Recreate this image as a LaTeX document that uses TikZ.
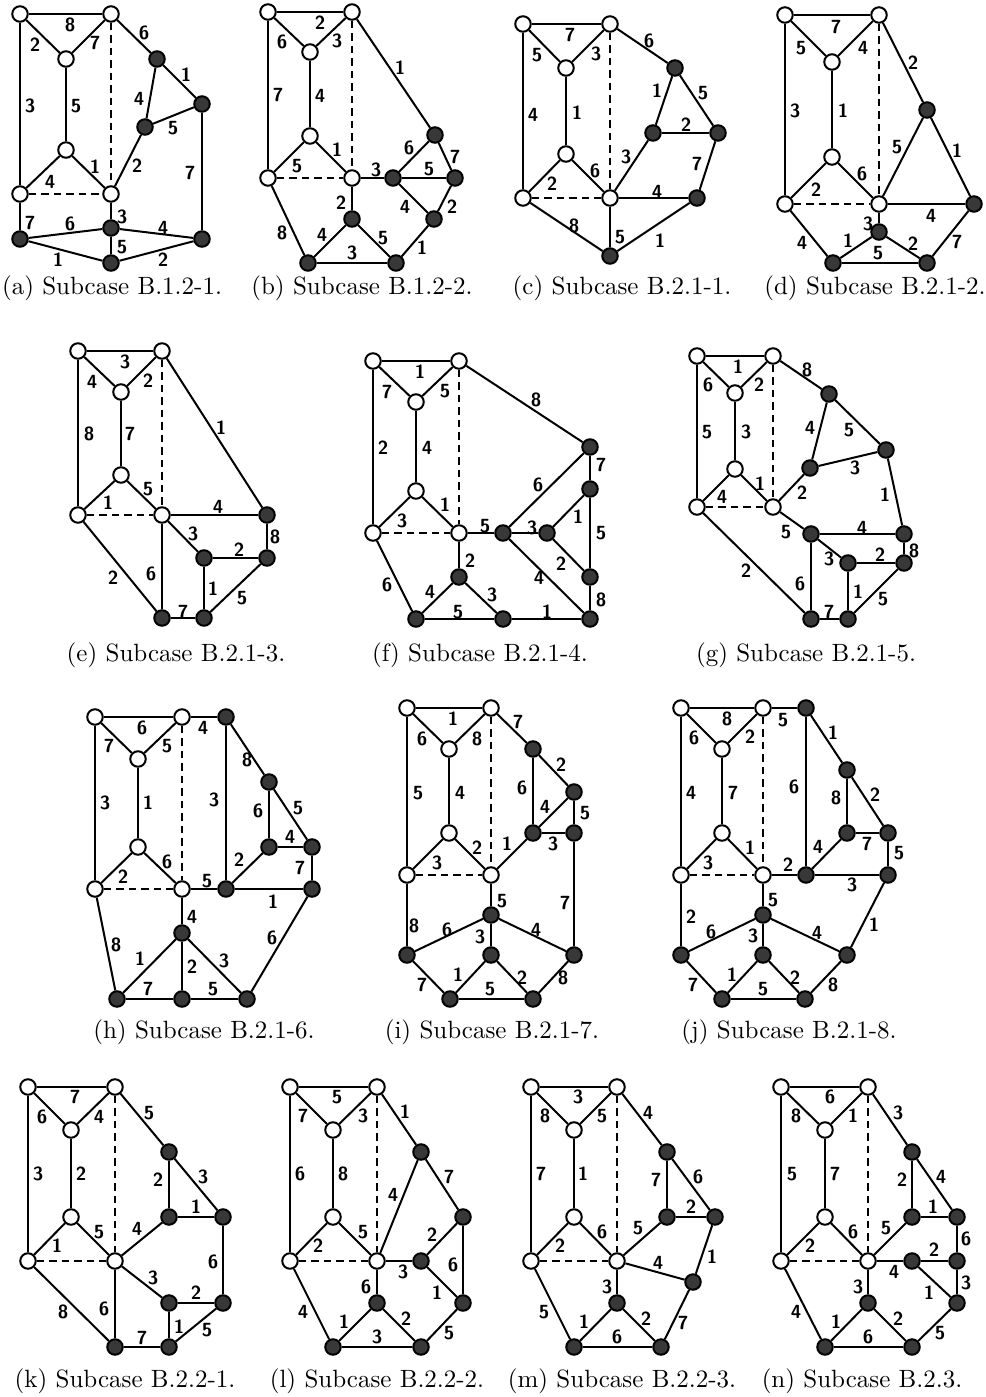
\documentclass[tikz,border=0pt]{standalone}
\usepackage{tikz}
\usetikzlibrary{positioning}

\begin{document}
\begin{tikzpicture}[x=0.4pt, y=-0.4pt, line width=0.8pt,
            wnode/.style={circle, draw, fill=white, inner sep=0pt, minimum size=6.2pt},
            bnode/.style={circle, draw, fill=black!78, inner sep=0pt, minimum size=6.2pt},
            lbl/.style={font=\fontsize{7.6}{8}\selectfont\sffamily\bfseries, inner sep=0pt},
            captxt/.style={font=\fontsize{10}{12}\selectfont\rmfamily, inner sep=0pt},
            hid/.style={dash pattern=on 3pt off 2pt},
        ]
        \useasboundingbox (0,0) rectangle (985,1397);

        % (a)
        \foreach \n/\x/\y in {TL/20/14, TR/111/14, IT/66/59, IB/66/150, BL/20/194, H/111/194}
            \node[wnode] (a\n) at (\x,\y) {};
        \foreach \n/\x/\y in {1/157/59, 2/202/104, 3/145/127, 4/111/228, 5/20/239, 6/202/239, 7/111/263}
            \node[bnode] (a\n) at (\x,\y) {};
        \foreach \u/\v/\p/\q/\l in {TL/TR/70/25/8, TL/IT/35/45/2, TR/IT/95/43/7, TL/BL/30/106/3, IT/IB/76/106/5,
                IB/BL/50/182/4, IB/H/95/167/1, H/3/137/166/2, TR/1/144/33/6, 1/2/186/75/1, 1/3/139/99/4,
                3/2/173/128/5, 2/6/190/173/7, H/4/122/217/3, BL/5/30/223/7, 5/4/70/224/6, 4/6/163/228/4,
                4/7/122/247/5, 5/7/58/260/1, 7/6/163/260/2}
            \draw (a\u) -- (a\v) node[lbl] (la\u\v) at (\p,\q) {\l};
        \node[captxt] (capa) at (112,288) {(a) Subcase B.1.2-1.};

        % (b)
        \foreach \n/\x/\y in {TL/268/12, TR/352/12, IT/310/52, IB/310/136, BL/268/178, H/352/178}
            \node[wnode] (b\n) at (\x,\y) {};
        \foreach \n/\x/\y in {1/435/135, 2/393/178, 3/455/178, 4/352/219, 5/434/219, 6/308/263, 7/396/263}
            \node[bnode] (b\n) at (\x,\y) {};
        \foreach \u/\v/\p/\q/\l in {TL/TR/320/23/2, TL/IT/282/42/6, TR/IT/337/41/3, TL/BL/278/95/7, IT/IB/320/96/4,
                IB/BL/297/166/5, IB/H/337/150/1, TR/1/400/68/1, H/2/376/170/3, 2/1/409/148/6, 2/3/429/169/5,
                1/3/455/157/7, 2/5/405/207/4, 3/5/452/207/2, H/4/341/203/2, BL/6/282/233/8, 4/6/322/235/4,
                4/7/383/238/5, 6/7/352/253/3, 7/5/422/248/1}
            \draw (b\u) -- (b\v) node[lbl] (lb\u\v) at (\p,\q) {\l};
        \node[captxt] (capb) at (362,288) {(b) Subcase B.1.2-2.};

        % (c)
        \foreach \n/\x/\y in {TL/523/24, TR/610/24, IT/566/68, IB/566/154, BL/523/198, H/610/198}
            \node[wnode] (c\n) at (\x,\y) {};
        \foreach \n/\x/\y in {1/675/68, 2/653/133, 3/718/133, 4/697/198, 5/610/256}
            \node[bnode] (c\n) at (\x,\y) {};
        \foreach \u/\v/\p/\q/\l in {TL/TR/570/35/7, TL/IT/537/55/5, TR/IT/596/54/3, TL/BL/533/115/4, IT/IB/577/113/1,
                IB/BL/552/184/2, IB/H/595/171/6, TR/1/649/41/6, 1/2/657/91/1, 1/3/703/93/5, 2/3/686/125/2,
                H/2/626/157/3, 3/4/697/164/7, H/4/657/192/4, BL/5/574/226/8, H/5/620/237/5, 4/5/660/241/1}
            \draw (c\u) -- (c\v) node[lbl] (lc\u\v) at (\p,\q) {\l};
        \node[captxt] (capc) at (622,288) {(c) Subcase B.2.1-1.};

        % (d)
        \foreach \n/\x/\y in {TL/785/15, TR/879/15, IT/832/62, IB/832/157, BL/785/204, H/879/204}
            \node[wnode] (d\n) at (\x,\y) {};
        \foreach \n/\x/\y in {1/927/110, 2/974/204, 3/879/232, 4/833/263, 5/927/263}
            \node[bnode] (d\n) at (\x,\y) {};
        \foreach \u/\v/\p/\q/\l in {TL/TR/836/27/7, TL/IT/801/48/5, TR/IT/863/48/4, TL/BL/795/111/3, IT/IB/843/111/1,
                IB/BL/816/190/2, IB/H/862/174/6, TR/1/913/63/2, H/1/897/147/5, 1/2/957/151/1, H/2/931/216/4,
                H/3/868/224/3, BL/4/802/243/4, 4/3/848/241/1, 3/5/913/244/2, 4/5/878/253/5, 5/2/957/242/7}
            \draw (d\u) -- (d\v) node[lbl] (ld\u\v) at (\p,\q) {\l};
        \node[captxt] (capd) at (875,288) {(d) Subcase B.2.1-2.};

        % (e)
        \foreach \n/\x/\y in {TL/78/351, TR/162/351, IT/121/392, IB/121/475, BL/78/515, H/162/515}
            \node[wnode] (e\n) at (\x,\y) {};
        \foreach \n/\x/\y in {1/267/515, 2/204/558, 3/267/558, 4/162/618, 5/204/618}
            \node[bnode] (e\n) at (\x,\y) {};
        \foreach \u/\v/\p/\q/\l in {TL/TR/125/362/3, TL/IT/92/382/4, TR/IT/148/381/2, TL/BL/89/434/8, IT/IB/130/434/7,
                IB/BL/108/503/1, IB/H/148/489/5, TR/1/221/428/1, H/1/218/507/4, H/2/193/534/3, 2/3/239/550/2,
                1/3/275/537/8, BL/4/113/578/2, H/4/151/574/6, 4/5/183/612/7, 2/5/213/589/1, 5/3/242/598/5}
            \draw (e\u) -- (e\v) node[lbl] (le\u\v) at (\p,\q) {\l};
        \node[captxt] (cape) at (176,655) {(e) Subcase B.2.1-3.};

        % (f)
        \foreach \n/\x/\y in {TL/373/361, TR/459/361, IT/416/402, IB/416/491, BL/373/533, H/459/533}
            \node[wnode] (f\n) at (\x,\y) {};
        \foreach \n/\x/\y in {1/590/447, 2/590/489, 3/503/533, 4/547/533, 5/459/577, 6/590/577, 7/416/619,
                8/503/619, 9/590/619}
            \node[bnode] (f\n) at (\x,\y) {};
        \foreach \u/\v/\p/\q/\l in {TL/TR/420/372/1, TL/IT/387/392/7, TR/IT/445/391/5, TL/BL/383/448/2, IT/IB/427/448/4,
                IB/BL/402/521/3, IB/H/445/505/1, TR/1/536/400/8, 1/2/601/465/7, 3/1/538/485/6, 4/2/578/517/1,
                H/3/485/526/5, 3/4/532/528/3, 2/6/601/533/5, 4/6/561/564/2, 3/9/539/578/4, 6/9/601/600/8,
                H/5/470/561/2, BL/7/387/585/6, 5/7/430/592/4, 5/8/492/595/3, 7/8/458/612/5, 8/9/547/612/1}
            \draw (f\u) -- (f\v) node[lbl] (lf\u\v) at (\p,\q) {\l};
        \node[captxt] (capf) at (480,655) {(f) Subcase B.2.1-4.};

        % (g)
        \foreach \n/\x/\y in {TL/697/356, TR/773/356, IT/735/393, IB/735/469, BL/697/507, H/773/507}
            \node[wnode] (g\n) at (\x,\y) {};
        \foreach \n/\x/\y in {1/829/394, 2/886/450, 3/810/468, 4/811/534, 5/904/534, 6/848/563, 7/904/563,
                8/811/619, 9/848/619}
            \node[bnode] (g\n) at (\x,\y) {};
        \foreach \u/\v/\p/\q/\l in {TL/TR/738/367/1, TL/IT/708/385/6, TR/IT/759/385/2, TL/BL/707/432/5, IT/IB/746/432/3,
                IB/BL/722/497/4, IB/H/760/484/1, TR/1/807/370/8, 1/3/810/428/4, 1/2/849/430/5, 3/2/855/468/3,
                H/3/802/493/2, 2/5/885/495/1, H/4/786/532/5, 4/5/862/528/4, 4/6/829/559/3, 6/7/880/555/2,
                5/7/914/551/8, BL/8/746/571/2, 4/8/800/584/6, 8/9/829/612/7, 6/9/858/592/1, 9/7/883/599/5}
            \draw (g\u) -- (g\v) node[lbl] (lg\u\v) at (\p,\q) {\l};
        \node[captxt] (capg) at (806,655) {(g) Subcase B.2.1-5.};

        % (h)
        \foreach \n/\x/\y in {TL/95/717, TR/182/717, IT/138/759, IB/138/847, BL/95/889, H/182/889}
            \node[wnode] (h\n) at (\x,\y) {};
        \foreach \n/\x/\y in {1/226/717, 2/269/782, 3/269/847, 4/312/847, 5/226/889, 6/312/889, 7/182/933,
                8/117/999, 9/182/999, 10/247/999}
            \node[bnode] (h\n) at (\x,\y) {};
        \foreach \u/\v/\p/\q/\l in {TL/TR/142/728/6, TL/IT/109/746/7, TR/IT/167/746/5, TL/BL/105/803/3, IT/IB/148/803/1,
                IB/BL/123/877/2, IB/H/167/862/6, TR/1/203/728/4, 1/5/214/800/3, 1/2/247/760/8, 2/3/258/811/6,
                2/4/298/808/5, 3/4/290/837/4, 5/3/239/860/2, 4/6/300/868/7, H/5/207/881/5, 5/6/273/902/1,
                6/10/272/938/6, H/7/192/917/4, BL/8/116/945/8, 7/8/140/959/1, 7/9/192/967/2, 7/10/224/961/3,
                8/9/148/989/7, 9/10/213/989/5}
            \draw (h\u) -- (h\v) node[lbl] (lh\u\v) at (\p,\q) {\l};
        \node[captxt] (caph) at (204,1032) {(h) Subcase B.2.1-6.};

        % (i)
        \foreach \n/\x/\y in {TL/407/708, TR/491/708, IT/449/749, IB/449/833, BL/407/875, H/491/875}
            \node[wnode] (i\n) at (\x,\y) {};
        \foreach \n/\x/\y in {1/533/749, 2/574/792, 3/533/833, 4/574/833, 5/491/915, 6/407/955, 7/491/955,
                8/574/955, 9/450/999, 10/533/999}
            \node[bnode] (i\n) at (\x,\y) {};
        \foreach \u/\v/\p/\q/\l in {TL/TR/453/719/1, TL/IT/422/739/6, TR/IT/477/739/8, TL/BL/418/793/5, IT/IB/460/793/4,
                IB/BL/437/863/3, IB/H/477/848/2, TR/1/518/722/7, 1/2/561/765/2, 1/3/522/788/6, 3/2/545/807/4,
                2/4/585/813/5, 3/4/553/844/3, H/3/507/844/1, H/5/502/901/5, 4/8/565/903/7, BL/6/414/926/8,
                6/5/447/930/6, 5/7/480/937/3, 5/8/536/930/4, 6/9/422/985/7, 9/7/458/975/1, 9/10/490/989/5,
                7/10/522/978/2, 10/8/563/978/8}
            \draw (i\u) -- (i\v) node[lbl] (li\u\v) at (\p,\q) {\l};
        \node[captxt] (capi) at (492,1032) {(i) Subcase B.2.1-7.};

        % (j)
        \foreach \n/\x/\y in {TL/681/708, TR/763/708, IT/722/749, IB/722/833, BL/681/875, H/763/875}
            \node[wnode] (j\n) at (\x,\y) {};
        \foreach \n/\x/\y in {1/806/708, 2/847/770, 3/847/833, 4/888/833, 5/806/875, 6/888/875, 7/763/915,
                8/681/955, 9/763/955, 10/847/955, 11/722/999, 12/805/999}
            \node[bnode] (j\n) at (\x,\y) {};
        \foreach \u/\v/\p/\q/\l in {TL/TR/727/719/8, TL/IT/694/738/6, TR/IT/750/737/2, TL/BL/691/793/4, IT/IB/733/793/7,
                IB/BL/708/863/3, IB/H/750/848/1, TR/1/783/720/5, 1/5/794/787/6, 1/2/833/733/1, 2/3/836/798/8,
                2/4/875/795/2, 3/4/867/844/7, 4/6/899/853/5, 5/3/818/847/4, H/5/788/865/2, 5/6/852/885/3,
                H/7/773/900/5, BL/8/691/917/2, 8/7/711/932/6, 7/9/753/936/3, 7/10/817/933/4, 6/10/874/925/1,
                8/11/693/985/7, 11/9/732/975/1, 11/12/763/989/5, 9/12/795/978/2, 12/10/833/985/8}
            \draw (j\u) -- (j\v) node[lbl] (lj\u\v) at (\p,\q) {\l};
        \node[captxt] (capj) at (789,1032) {(j) Subcase B.2.1-8.};

        % (k)
        \foreach \n/\x/\y in {TL/28/1087, TR/115/1087, IT/71/1130, IB/71/1217, BL/28/1261, H/115/1261}
            \node[wnode] (k\n) at (\x,\y) {};
        \foreach \n/\x/\y in {1/169/1152, 2/169/1217, 3/223/1217, 4/169/1303, 5/223/1303, 6/115/1347, 7/169/1347}
            \node[bnode] (k\n) at (\x,\y) {};
        \foreach \u/\v/\p/\q/\l in {TL/TR/75/1097/7, TL/IT/42/1117/6, TR/IT/99/1117/4, TL/BL/38/1174/3, IT/IB/81/1174/2,
                IB/BL/57/1246/1, IB/H/99/1232/5, TR/1/149/1113/5, 1/2/158/1180/2, 1/3/203/1177/3, 2/3/196/1207/1,
                H/2/137/1229/4, 3/5/213/1262/6, H/4/153/1278/3, 4/5/196/1293/2, BL/6/63/1312/8, H/6/104/1309/6,
                6/7/142/1338/7, 4/7/179/1327/1, 7/5/207/1330/5}
            \draw (k\u) -- (k\v) node[lbl] (lk\u\v) at (\p,\q) {\l};
        \node[captxt] (capk) at (125,1381) {(k) Subcase B.2.2-1.};

        % (l)
        \foreach \n/\x/\y in {TL/290/1087, TR/377/1087, IT/333/1130, IB/333/1217, BL/290/1261, H/377/1261}
            \node[wnode] (l\n) at (\x,\y) {};
        \foreach \n/\x/\y in {1/421/1152, 2/463/1217, 3/421/1261, 4/463/1303, 5/377/1303, 6/333/1347, 7/421/1347}
            \node[bnode] (l\n) at (\x,\y) {};
        \foreach \u/\v/\p/\q/\l in {TL/TR/337/1097/5, TL/IT/303/1116/7, TR/IT/363/1116/3, TL/BL/300/1174/6, IT/IB/343/1174/8,
                IB/BL/318/1246/2, IB/H/363/1232/5, TR/1/405/1112/1, H/1/393/1195/4, 1/2/449/1177/7, 3/2/432/1235/2,
                H/3/403/1272/3, 2/4/453/1265/6, 3/4/437/1293/1, H/5/366/1287/6, BL/6/303/1312/4, 5/6/344/1322/1,
                5/7/406/1319/2, 6/7/377/1337/3, 7/4/449/1333/5}
            \draw (l\u) -- (l\v) node[lbl] (ll\u\v) at (\p,\q) {\l};
        \node[captxt] (capl) at (377,1381) {(l) Subcase B.2.2-2.};

        % (m)
        \foreach \n/\x/\y in {TL/531/1087, TR/617/1087, IT/574/1130, IB/574/1217, BL/531/1261, H/617/1261}
            \node[wnode] (m\n) at (\x,\y) {};
        \foreach \n/\x/\y in {1/667/1152, 2/667/1217, 3/715/1217, 4/693/1282, 5/617/1303, 6/574/1347, 7/661/1347}
            \node[bnode] (m\n) at (\x,\y) {};
        \foreach \u/\v/\p/\q/\l in {TL/TR/578/1097/3, TL/IT/545/1116/8, TR/IT/602/1116/5, TL/BL/541/1174/7, IT/IB/583/1174/1,
                IB/BL/560/1246/2, IB/H/602/1232/6, TR/1/648/1113/4, 1/2/656/1180/7, 1/3/698/1177/6, 2/3/691/1207/2,
                H/2/638/1228/5, H/4/658/1263/4, 3/4/712/1257/1, H/5/607/1287/3, BL/6/544/1312/5, 5/6/584/1322/1,
                5/7/646/1319/2, 6/7/617/1337/6, 4/7/683/1323/7}
            \draw (m\u) -- (m\v) node[lbl] (lm\u\v) at (\p,\q) {\l};
        \node[captxt] (capm) at (622,1381) {(m) Subcase B.2.2-3.};

        % (n)
        \foreach \n/\x/\y in {TL/781/1087, TR/868/1087, IT/825/1130, IB/825/1217, BL/781/1261, H/868/1261}
            \node[wnode] (n\n) at (\x,\y) {};
        \foreach \n/\x/\y in {1/912/1152, 2/912/1217, 3/957/1217, 4/912/1261, 5/957/1261, 6/957/1303, 7/868/1303,
                8/825/1347, 9/912/1347}
            \node[bnode] (n\n) at (\x,\y) {};
        \foreach \u/\v/\p/\q/\l in {TL/TR/830/1097/6, TL/IT/796/1116/8, TR/IT/853/1116/1, TL/BL/792/1174/5, IT/IB/835/1174/7,
                IB/BL/810/1246/2, IB/H/853/1232/6, TR/1/898/1113/3, 1/2/902/1180/2, 1/3/941/1177/4, 2/3/933/1207/1,
                H/2/886/1228/5, 3/5/966/1239/6, 4/5/934/1250/2, H/4/894/1272/4, 4/6/929/1293/1, 5/6/966/1283/3,
                H/7/858/1287/3, BL/8/796/1312/4, 7/8/836/1322/1, 7/9/898/1319/2, 8/9/868/1337/6, 9/6/940/1333/5}
            \draw (n\u) -- (n\v) node[lbl] (ln\u\v) at (\p,\q) {\l};
        \node[captxt] (capn) at (862,1381) {(n) Subcase B.2.3.};

        % hidden edges of every prism
        \foreach \s in {a,...,n}
            \draw[hid] (\s BL) -- (\s H) (\s TR) -- (\s H);
    \end{tikzpicture}
\end{document}
